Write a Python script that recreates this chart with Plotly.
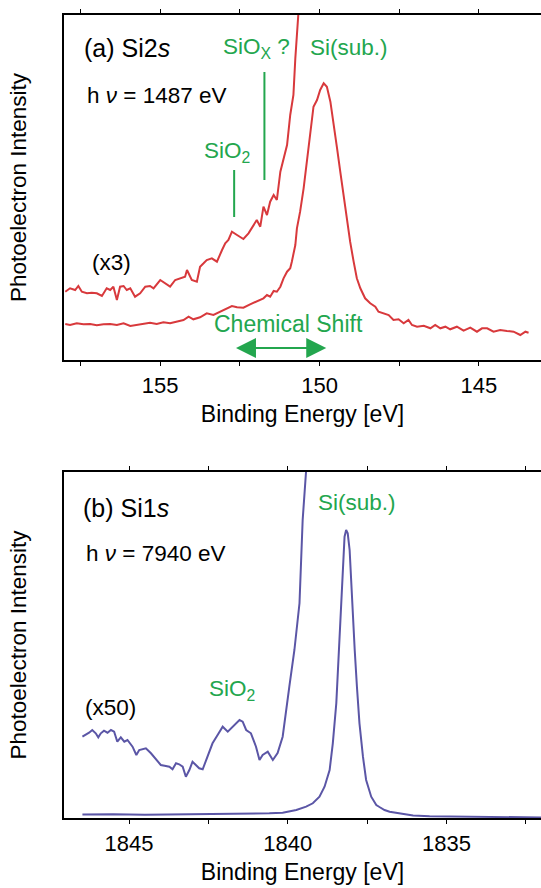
import plotly.graph_objects as go
from plotly.subplots import make_subplots

# ---------------- Panel (a) Si2s, hv = 1487 eV ----------------
si2s_be = [157.98, 157.83, 157.62, 157.41, 157.20, 156.99, 156.78, 156.57, 156.36, 156.15,
           155.94, 155.73, 155.53, 155.32, 155.11, 154.90, 154.69, 154.48, 154.27, 154.11,
           153.96, 153.75, 153.54, 153.33, 153.12, 152.91, 152.75, 152.59, 152.39, 152.18,
           151.97, 151.76, 151.65, 151.55, 151.44, 151.34, 151.23, 151.13, 151.02, 150.92,
           150.87, 150.76, 150.71, 150.61, 150.50, 150.40, 150.29, 150.19, 150.08, 149.98,
           149.87, 149.77, 149.66, 149.56, 149.45, 149.35, 149.25, 149.14, 149.04, 148.93,
           148.83, 148.72, 148.57, 148.41, 148.25, 148.15, 147.99, 147.83, 147.68, 147.52,
           147.36, 147.21, 147.10, 146.94, 146.73, 146.52, 146.37, 146.21, 146.05, 145.90,
           145.69, 145.48, 145.27, 145.06, 144.90, 144.74, 144.54, 144.33, 144.12, 143.91,
           143.70, 143.54, 143.44]
si2s_int = [36, 35, 36.7, 35.7, 36, 34.7, 35.7, 36, 35, 36.7,
            34, 35, 36.7, 37.3, 36, 37.7, 36.7, 38.3, 40, 43.3,
            40.7, 42.7, 46.7, 45, 48.3, 51.7, 54, 52.7, 52.3, 55.7,
            58.3, 61.7, 65, 63.3, 69, 68.3, 73.3, 81.7, 88.3, 91.7,
            98.3, 115, 131.7, 148.3, 171.7, 198.3, 225, 253.3, 260, 270,
            276.7, 273.3, 258.3, 238.3, 211.7, 188.3, 165, 138.3, 118.3, 98.3,
            81.7, 71.7, 61.7, 56.7, 53.3, 48.3, 46.7, 45, 40, 40.7,
            36.7, 40, 35, 33.3, 34.3, 31.7, 35, 31.7, 33.3, 30.7,
            33.3, 29.3, 32.3, 28.3, 31.7, 31.7, 28.3, 30, 29, 28.3,
            25, 28.3, 27.3]

si2s_x3_be = [157.98, 157.83, 157.67, 157.57, 157.46, 157.30, 157.15, 156.99, 156.83, 156.68,
              156.57, 156.47, 156.36, 156.26, 156.15, 156.05, 155.94, 155.79, 155.63, 155.47,
              155.32, 155.21, 155.00, 154.84, 154.69, 154.53, 154.37, 154.22, 154.16, 154.01,
              153.85, 153.75, 153.64, 153.54, 153.38, 153.22, 153.06, 152.96, 152.86, 152.75,
              152.59, 152.49, 152.39, 152.23, 152.07, 151.97, 151.86, 151.76, 151.65, 151.55,
              151.44, 151.34, 151.23, 151.13, 151.02, 150.92, 150.82, 150.76, 150.66, 150.55]
si2s_x3_int = [68.3, 71.7, 70, 74, 68.3, 66.7, 67.3, 66.7, 64, 71.7,
               70, 73.3, 60, 73.3, 74, 70, 71.7, 63.3, 66.7, 73.3,
               74, 71.7, 80, 76.7, 73.3, 80, 81.7, 83.3, 90, 80,
               78.3, 93.3, 96.7, 100, 101.7, 98.3, 110, 116.7, 120, 128.3,
               125, 123.3, 121, 126.7, 135, 140, 133.3, 153.3, 145, 158.3,
               165, 160, 188.3, 201.7, 215, 245, 265, 301.7, 345, 400]

# ---------------- Panel (b) Si1s, hv = 7940 eV ----------------
si1s_be = [1846.47, 1845.5, 1844.5, 1843.5, 1842.5, 1841.5, 1841.0, 1840.58, 1840.16, 1839.73,
           1839.42, 1839.21, 1839.00, 1838.84, 1838.68, 1838.58, 1838.47, 1838.42, 1838.37, 1838.31,
           1838.26, 1838.21, 1838.16, 1838.11, 1838.05, 1838.00, 1837.95, 1837.89, 1837.82, 1837.74,
           1837.63, 1837.53, 1837.37, 1837.21, 1837.11, 1836.95, 1836.79, 1836.47, 1836.05, 1835.53,
           1834.48, 1833.42, 1832.02]
si1s_int = [3.5, 3.8, 3.3, 3.6, 3.4, 3.8, 4.2, 4.7, 5.3, 8,
            11.3, 14.7, 21.3, 31.3, 48, 74.7, 114.7, 148, 188, 221.3,
            261.3, 281.3, 288, 284.7, 268, 234.7, 201.3, 168, 131.3, 94.7,
            61.3, 38, 21.3, 13, 11, 8, 6.3, 4.7, 2.5, 1.8,
            1.2, 0.8, 0.5]

si1s_x50_be = [1846.47, 1846.36, 1846.26, 1846.16, 1846.05, 1845.97, 1845.89, 1845.79, 1845.68, 1845.57,
               1845.47, 1845.37, 1845.26, 1845.15, 1845.05, 1844.89, 1844.77, 1844.68, 1844.47, 1844.31,
               1844.15, 1844.00, 1843.84, 1843.73, 1843.63, 1843.52, 1843.42, 1843.31, 1843.21, 1843.10,
               1843.00, 1842.89, 1842.79, 1842.68, 1842.53, 1842.37, 1842.21, 1842.05, 1841.89, 1841.74,
               1841.52, 1841.42, 1841.31, 1841.16, 1841.00, 1840.89, 1840.79, 1840.63, 1840.47, 1840.32,
               1840.16, 1839.95, 1839.79, 1839.63, 1839.58, 1839.53, 1839.42, 1839.30]
si1s_x50_int = [81.3, 83, 85.3, 88, 84.7, 80.7, 84.7, 87.3, 85.3, 88,
                86.3, 76.3, 80.7, 76.3, 78, 71.3, 63, 68, 69.7, 64.7,
                58.7, 53, 52, 51.3, 48.7, 54.7, 53.7, 51.3, 41.3, 48,
                56.3, 53, 49.7, 48.7, 61.3, 74.7, 83, 91.3, 86.3, 91.3,
                98, 96.3, 88, 84.7, 71.3, 58, 63, 66.3, 58, 65,
                81.3, 131.3, 168, 214.7, 258, 298, 348, 400]

# tick labels
tick_a_vals = [155, 150, 145]
tick_a_text = ["155", "150", "145"]
tick_b_vals = [1845, 1840, 1835]
tick_b_text = ["1845", "1840", "1835"]

RED = "#d8393c"
BLUE = "#5b56a6"
GREEN = "#23a64e"
FONT = "Liberation Sans, Arial, sans-serif"

fig = make_subplots(rows=2, cols=1)

fig.add_trace(go.Scatter(x=si2s_x3_be, y=si2s_x3_int, mode="lines",
                         line=dict(color=RED, width=2)), row=1, col=1)
fig.add_trace(go.Scatter(x=si2s_be, y=si2s_int, mode="lines",
                         line=dict(color=RED, width=2)), row=1, col=1)
fig.add_trace(go.Scatter(x=si1s_x50_be, y=si1s_x50_int, mode="lines",
                         line=dict(color=BLUE, width=2)), row=2, col=1)
fig.add_trace(go.Scatter(x=si1s_be, y=si1s_int, mode="lines",
                         line=dict(color=BLUE, width=2)), row=2, col=1)

H = 888.0
xcommon = dict(showline=True, linewidth=1.5, linecolor="black", mirror="ticks",
               ticks="outside", ticklen=4, tickwidth=1.2, tickcolor="black",
               minor=dict(dtick=2.5, tick0=0, ticks="outside", ticklen=4,
                          tickwidth=1.2, tickcolor="black", showgrid=False),
               showgrid=False, zeroline=False,
               tickfont=dict(family=FONT, size=22, color="black"),
               ticklabelstandoff=1, automargin=False)
ycommon = dict(showline=True, linewidth=1.5, linecolor="black", mirror=False,
               ticks="", showticklabels=False, showgrid=False, zeroline=False,
               automargin=False,
               title=dict(text="Photoelectron Intensity", standoff=29,
                          font=dict(family=FONT, size=22.5, color="black")))

fig.update_layout(
    width=541, height=888,
    margin=dict(l=64, r=0, t=0, b=0),
    paper_bgcolor="white", plot_bgcolor="white",
    showlegend=False,
    font=dict(family=FONT, color="black"),
    xaxis=dict(range=[158.02, 143.05], tickvals=tick_a_vals, ticktext=tick_a_text,
               domain=[0, 1],
               title=dict(text="Binding Energy [eV]", standoff=9,
                          font=dict(family=FONT, size=23, color="black")), **xcommon),
    yaxis=dict(range=[0, 345], domain=[1 - 360 / H, 1 - 15 / H], **ycommon),
    xaxis2=dict(range=[1847.05, 1832.02], tickvals=tick_b_vals, ticktext=tick_b_text,
                domain=[0, 1],
                title=dict(text="Binding Energy [eV]", standoff=9,
                           font=dict(family=FONT, size=23, color="black")), **xcommon),
    yaxis2=dict(range=[0, 346], domain=[1 - 818 / H, 1 - 472 / H], **ycommon),
)

def txt(x, y, text, xref, yref, color="black", size=22.5, xanchor="center"):
    fig.add_annotation(x=x, y=y, xref=xref, yref=yref, text=text, showarrow=False,
                       xanchor=xanchor, yanchor="middle",
                       font=dict(family=FONT, size=size, color=color))

# panel (a) labels
txt(157.45, 312, "(a) Si2<i>s</i>", "x", "y", size=25, xanchor="left")
txt(157.35, 265, "h <i>ν</i> = 1487 eV", "x", "y", xanchor="left")
txt(151.99, 312, "SiO<sub>X</sub> ?", "x", "y", color=GREEN)
txt(149.07, 312, "Si(sub.)", "x", "y", color=GREEN)
txt(152.91, 208, "SiO<sub>2</sub>", "x", "y", color=GREEN)
txt(156.54, 98, "(x3)", "x", "y")
txt(150.98, 36, "Chemical Shift", "x", "y", color=GREEN, size=23)

fig.add_shape(type="line", x0=151.73, x1=151.73, y0=180, y1=288, xref="x", yref="y",
              line=dict(color=GREEN, width=2))
fig.add_shape(type="line", x0=152.68, x1=152.68, y0=143, y1=190, xref="x", yref="y",
              line=dict(color=GREEN, width=2))

fig.add_annotation(x=149.79, y=12, ax=152.67, ay=12, xref="x", yref="y",
                   axref="x", ayref="y", showarrow=True, text="",
                   arrowhead=2, startarrowhead=2, arrowside="end+start",
                   arrowsize=2, startarrowsize=2, arrowwidth=2, arrowcolor=GREEN)

# panel (b) labels
txt(1846.5, 310, "(b) Si1<i>s</i>", "x2", "y2", size=25, xanchor="left")
txt(1846.42, 265, "h <i>ν</i> = 7940 eV", "x2", "y2", xanchor="left")
txt(1837.83, 316, "Si(sub.)", "x2", "y2", color=GREEN)
txt(1841.75, 128, "SiO<sub>2</sub>", "x2", "y2", color=GREEN)
txt(1845.6, 111, "(x50)", "x2", "y2")

fig.write_html("out.html")
